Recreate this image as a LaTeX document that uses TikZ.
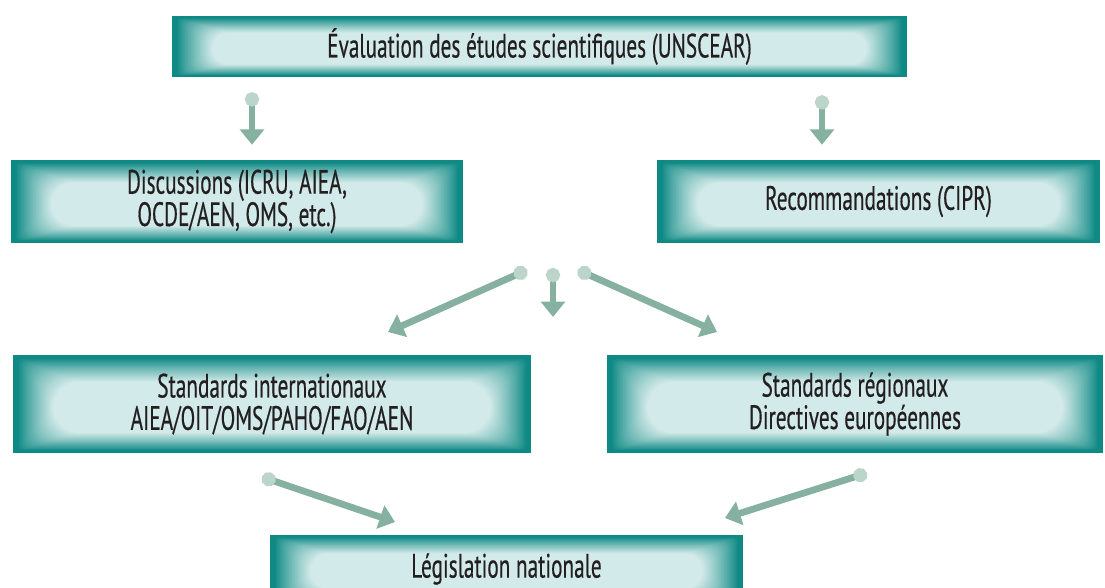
\documentclass[tikz,border=0pt]{standalone}
\usepackage{fontspec}
\setmainfont{PT Sans}[FakeStretch=0.63, FakeBold=0.4]
\usetikzlibrary{arrows.meta, positioning}

\definecolor{boxedge}{HTML}{0E8984}
\definecolor{boxlight}{HTML}{D2EAE9}
\definecolor{flowgreen}{HTML}{86B09F}
\definecolor{knob}{HTML}{BCD5CB}
\definecolor{inktext}{HTML}{231F20}
\newcommand{\pxu}{0.025cm}

\tikzset{
  glowbox/.style 2 args={fill=boxedge, text=inktext, align=center, inner sep=0pt,
    minimum width=#1*\pxu, minimum height=#2*\pxu,
    font=\fontsize{24pt}{23pt}\selectfont,
    path picture={
      \foreach \k in {1,...,24}{
        \pgfmathsetmacro\yin{#2*(0.03+0.24*\k/24)}
        \pgfmathsetmacro\xin{4+36*\k/24}
        \pgfmathsetmacro\mix{100*(\k/24)^0.9}
        \fill[boxlight!\mix!boxedge, rounded corners=\yin*0.7pt]
          ([shift={(\xin,\yin)}]path picture bounding box.north west) rectangle
          ([shift={(-\xin,-0.75*\yin)}]path picture bounding box.south east);
      }}},
  flow/.style={draw=flowgreen, line width=4.8pt,
    {Circle[length=10pt, color=knob]}-{Triangle[width=17pt, length=11pt]}}
}

\begin{document}
\begin{tikzpicture}[x=0.025cm, y=-0.025cm]
    \useasboundingbox (0,0) rectangle (1105,587);

    % Boxes
    \node[glowbox={735}{61}] (eval) at (539.5,46.5) {Évaluation des études scientifiques (UNSCEAR)};
    \node[glowbox={452}{83}] (disc) at (237,201.5) {Discussions (ICRU, AIEA,\\OCDE/AEN, OMS, etc.)};
    \node[glowbox={443}{83}] (recom) at (878.5,201.5) {Recommandations (CIPR)};
    \node[glowbox={518}{98}] (intl) at (272,404) {Standards internationaux\\AIEA/OIT/OMS/PAHO/FAO/AEN};
    \node[glowbox={496}{98}] (regio) at (855,404) {Standards régionaux\\Directives européennes};
    \node[glowbox={473}{68}] (legis) at (506.5,569) {Législation nationale};

    % Arrows from the evaluation
    \coordinate (colL) at (252,0);
    \coordinate (colR) at (822,0);
    \draw[flow, shorten <=15*\pxu, shorten >=15*\pxu] (eval.south -| colL) -- (disc.north -| colL);
    \draw[flow, shorten <=18*\pxu, shorten >=15*\pxu] (eval.south -| colR) -- (recom.north -| colR);

    % Arrows towards the standards
    \coordinate (hubL) at (527,270);
    \coordinate (hubM) at (553,268);
    \coordinate (hubR) at (578,270);
    \coordinate (tipL) at (388,332);
    \coordinate (tipM) at (553,317);
    \coordinate (tipR) at (717,332);
    \draw[flow] (hubL) -- (tipL);
    \draw[flow] (hubM) -- (tipM);
    \draw[flow] (hubR) -- (tipR);

    % Arrows towards the legislation
    \coordinate (outL) at (262,477);
    \coordinate (inL) at (395,522);
    \coordinate (outR) at (867,473);
    \coordinate (inR) at (725,518);
    \draw[flow] (outL) -- (inL);
    \draw[flow] (outR) -- (inR);
\end{tikzpicture}
\end{document}
